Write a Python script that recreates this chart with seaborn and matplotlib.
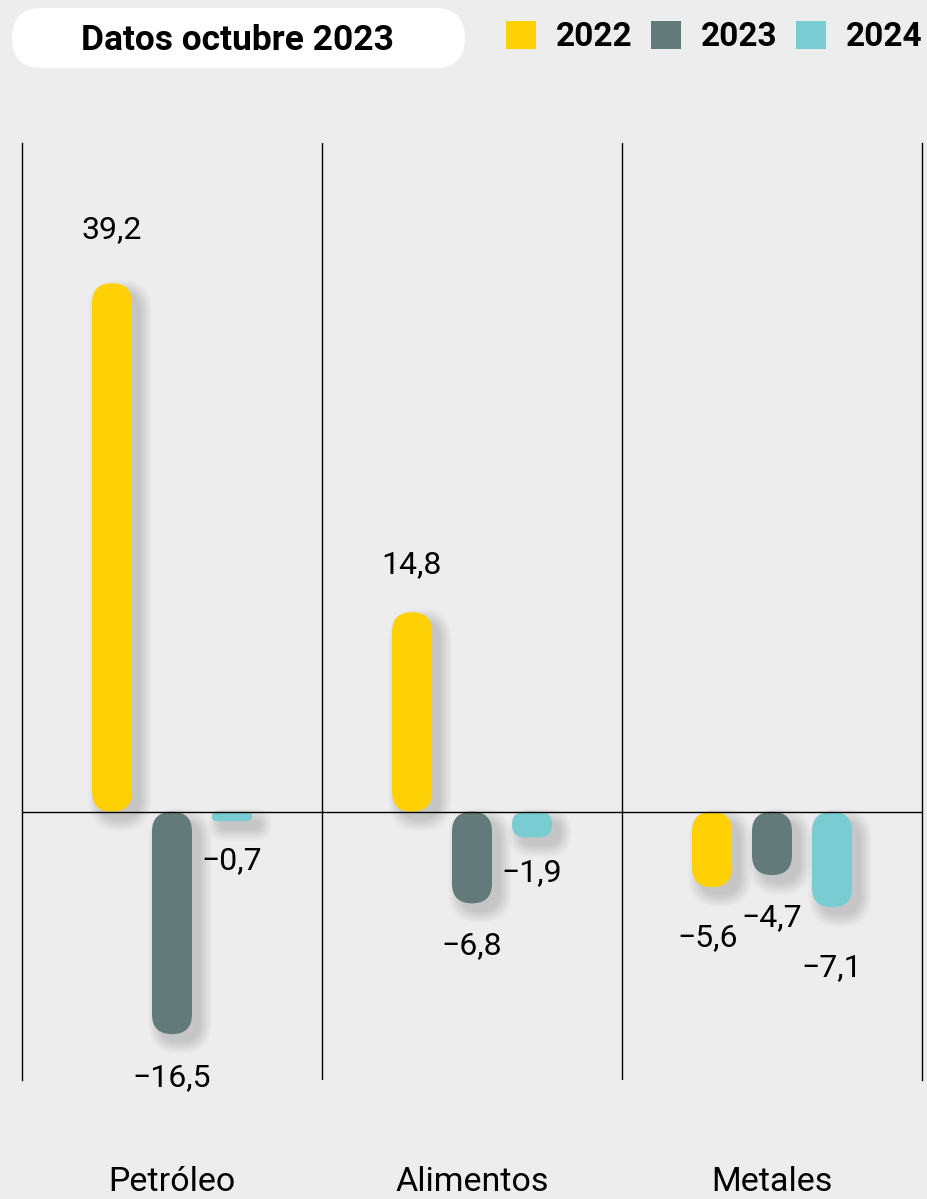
import numpy as np
import pandas as pd
import matplotlib
matplotlib.use('Agg')
import matplotlib.pyplot as plt
import seaborn as sns
from matplotlib.patches import FancyBboxPatch, Patch

# datos
categorias = ['Petróleo', 'Alimentos', 'Metales']
anios = ['2022', '2023', '2024']
valores_2022 = [39.2, 14.8, -5.6]
valores_2023 = [-16.5, -6.8, -4.7]
valores_2024 = [-0.7, -1.9, -7.1]
titulo = 'Datos octubre 2023'

colores = ['#FFD104', '#627A7A', '#79CCD1']
fondo = '#EDEDED'

# separacion de las etiquetas respecto al extremo de la barra (px)
label_dy = {'2022': [54, 48, 50], '2023': [43, 42, 43], '2024': [39, 35, 60]}
label_dx = {'2022': [0, 0, -4], '2023': [0, 0, 0], '2024': [0, 0, 0]}

df = pd.DataFrame({
    'categoria': categorias * 3,
    'anio': np.repeat(anios, 3),
    'valor': valores_2022 + valores_2023 + valores_2024,
})

sns.set_theme(style='white')
plt.rcParams['font.family'] = ['Roboto', 'DejaVu Sans']
plt.rcParams['text.color'] = 'black'

W, H = 927, 1199
fig = plt.figure(figsize=(W / 100, H / 100), dpi=100, facecolor=fondo)

# cabecera en coordenadas de pixel
hdr = fig.add_axes([0, 0, 1, 1], zorder=0)
hdr.set_xlim(0, W)
hdr.set_ylim(H, 0)
hdr.axis('off')
hdr.add_patch(FancyBboxPatch((12, 8), 453, 60, boxstyle='round,pad=0,rounding_size=30',
                             fc='white', ec='none'))
hdr.text(238, 41, titulo, ha='center', va='center', fontsize=25.5, fontweight='bold', color='black')

ax = fig.add_axes([22 / W, 1 - 1080 / H, 900 / W, 937 / H], zorder=1)
ax.set_facecolor('none')

sns.barplot(data=df, x='categoria', y='valor', hue='anio', order=categorias, hue_order=anios,
            palette=colores, width=0.6, gap=1 / 3, saturation=1, errorbar=None,
            legend=False, ax=ax)

ymin, ymax = -19.9, 49.6
ax.set_xlim(-0.5, 2.5)
ax.set_ylim(ymin, ymax)
aspect = ((ymax - ymin) / 937) / (3 / 900)
xpp = 3 / 900

# barras redondeadas con sombra
for i, cont in enumerate(ax.containers):
    anio = anios[i]
    for j, bar in enumerate(cont):
        x, w, h = bar.get_x(), bar.get_width(), bar.get_height()
        y0, hh = min(0, h), abs(h)
        color = bar.get_facecolor()
        bar.set_visible(False)
        r = min(w / 2, hh / aspect / 2)
        for k in range(13):
            p = k * 1.0 * xpp
            sh = FancyBboxPatch((x + 8 * xpp, y0 - 8 * xpp * aspect), w, hh,
                                boxstyle=f'round,pad={p},rounding_size={r + p}',
                                mutation_aspect=aspect, fc='black', ec='none',
                                alpha=0.011, zorder=1.5)
            ax.add_patch(sh)
        ax.add_patch(FancyBboxPatch((x, y0), w, hh, boxstyle=f'round,pad=0,rounding_size={r}',
                                    mutation_aspect=aspect, fc=color, ec='none', zorder=3))
        txt = f'{h:.1f}'.replace('.', ',').replace('-', '\u2212')
        dy = label_dy[anio][j] * (1 if h > 0 else -1)
        ax.annotate(txt, xy=(x + w / 2, h), xytext=(label_dx[anio][j], dy),
                    textcoords='offset pixels', ha='center', va='center',
                    fontsize=23, color='black')

ax.axhline(0, color='black', lw=1, zorder=4)
for xv in [0.5, 1.5]:
    ax.axvline(xv, color='black', lw=1, zorder=4)

sns.despine(ax=ax, top=True, bottom=True, left=False, right=False)
for s in ['left', 'right']:
    ax.spines[s].set_color('black')
    ax.spines[s].set_linewidth(1)

ax.set_xlabel('')
ax.set_ylabel('')
ax.set_yticks([])
ax.tick_params(axis='x', length=0, pad=62, labelsize=24.5, labelcolor='black')

fig.legend(handles=[Patch(facecolor=c, edgecolor='none', label=a) for c, a in zip(colores, anios)],
           loc='center left', bbox_to_anchor=(506 / W, 1 - 37 / H), ncol=3, frameon=False,
           borderpad=0, borderaxespad=0, handlelength=0.9, handleheight=0.9,
           handletextpad=0.6, columnspacing=0.55, labelcolor='black',
           prop={'weight': 'bold', 'size': 24})

fig.savefig('out.png', dpi=100, facecolor=fondo)
